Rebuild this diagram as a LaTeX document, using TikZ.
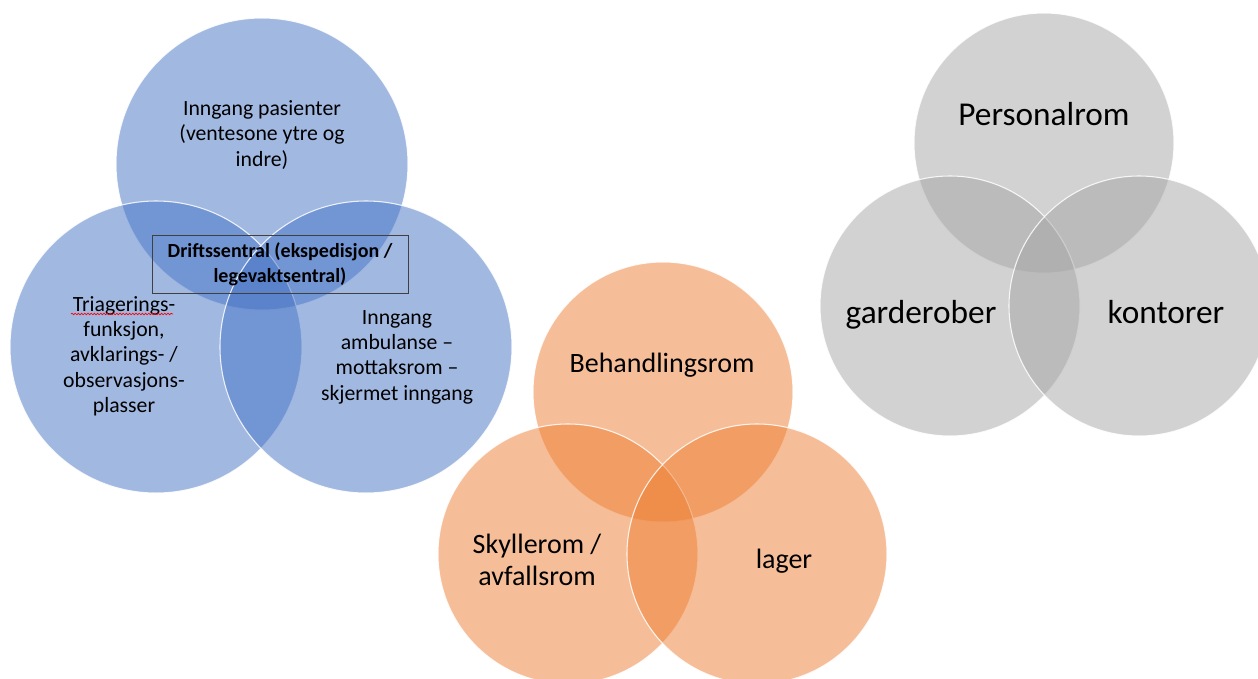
\documentclass[tikz,border=0pt]{standalone}
\usepackage{fontspec}
\setmainfont{Carlito}
\usetikzlibrary{decorations.pathmorphing}
\definecolor{vblue}{HTML}{4472C4}
\definecolor{vorange}{HTML}{ED7D31}
\definecolor{vgray}{HTML}{A5A5A5}
\tikzset{ring/.style={circle, inner sep=0pt, outer sep=0pt, fill=#1, fill opacity=0.5,
    draw=white, draw opacity=0.85, line width=0.8pt},
  bring/.style={ring=vblue, minimum size=219pt},
  oring/.style={ring=vorange, minimum size=195pt},
  gring/.style={ring=vgray, minimum size=195pt},
  btxt/.style={align=center, font=\fontsize{16.3}{19}\selectfont},
  otxt/.style={align=center, font=\fontsize{21}{24}\selectfont},
  gtxt/.style={align=center, font=\fontsize{25}{29}\selectfont}}

\begin{document}
\begin{tikzpicture}[x=0.75pt, y=-0.75pt]
  \useasboundingbox (0,0) rectangle (1258,679);
  \clip (0,0) rectangle (1258,679);
  % blue set
  \node[bring] (btop) at (262,164) {};
  \node[bring] (bleft) at (156,347) {};
  \node[bring] (bright) at (366,347) {};
  \node[btxt] (inngang) at (262,135) {Inngang pasienter\\(ventesone ytre og\\indre)};
  \node[btxt] (triage) at (124,356) {Triagerings-\\funksjon,\\avklarings- /\\observasjons-\\plasser};
  \node[btxt] (ambulanse) at (397,357) {Inngang\\ambulanse –\\mottaksrom –\\skjermet inngang};
  \node[draw=black!75, line width=0.6pt, minimum width=192pt, minimum height=44pt, align=center,
    font=\fontsize{15}{18.5}\selectfont\bfseries] (drift) at (280,264.5)
    {Driftssentral (ekspedisjon /\\legevaktsentral)};
  % spell check mark
  \coordinate (sq1) at (71,314);
  \coordinate (sq2) at (173,314);
  \draw[red, line width=0.5pt, decorate, decoration={snake, amplitude=0.6pt, segment length=2.4pt}] (sq1) -- (sq2);
  % orange set
  \node[oring] (otop) at (663,392) {};
  \node[oring] (oleft) at (568,554) {};
  \node[oring] (oright) at (757,554) {};
  \node[otxt, anchor=base] (behandling) at (662,372) {Behandlingsrom};
  \node[otxt] (skyll) at (537,560) {Skyllerom /\\avfallsrom};
  \node[otxt, anchor=base] (lager) at (784,568) {lager};
  % gray set
  \node[gring] (gtop) at (1044,143) {};
  \node[gring] (gleft) at (950,306) {};
  \node[gring] (gright) at (1139,306) {};
  \node[gtxt, anchor=base] (personal) at (1044,125) {Personalrom};
  \node[gtxt, anchor=base] (garderobe) at (921,323) {garderober};
  \node[gtxt, anchor=base] (kontor) at (1166,323) {kontorer};
\end{tikzpicture}
\end{document}
